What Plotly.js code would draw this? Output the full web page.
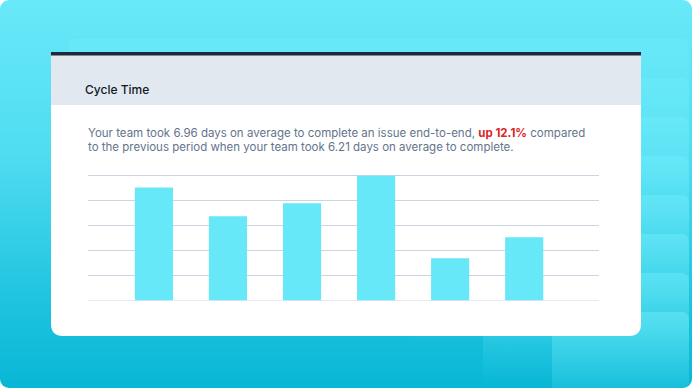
<!DOCTYPE html>
<html>
<head>
<meta charset="utf-8">
<script src="https://cdn.plot.ly/plotly-3.0.1.min.js"></script>
<style>
  html, body { margin: 0; padding: 0; background: #ffffff; }
  #wrap { position: relative; width: 693px; height: 389px; overflow: hidden; }
  #bg { position: absolute; left: 0; top: 0; width: 692px; height: 388px; border-radius: 9px;
        background: linear-gradient(to bottom, #68e9f9 0%, #4fdcf1 40%, #1cc2de 80%, #08b7d5 100%); overflow: hidden; }
  .deco { position: absolute; border-radius: 7px;
          background: linear-gradient(to bottom, rgba(110,236,250,0.5) 0px, rgba(110,236,250,0.0) 110px); }
  #chart { position: absolute; left: 0; top: 0; width: 693px; height: 389px; }
</style>
</head>
<body>
<div id="wrap">
  <div id="bg"></div>
  <div id="chart"></div>
</div>
<script>
// ---- data ----
const periods = ["P1", "P2", "P3", "P4", "P5", "P6"];
const cycleDays = [9.04, 6.74, 7.78, 9.98, 3.38, 5.06];
const gridDays = [0, 2, 4, 6, 8, 10];
const cardTitle = "Cycle Time";
const summaryLine1 = 'Your team took 6.96 days on average to complete an issue end-to-end, <b><span style="color:#dc2626">up 12.1%</span></b> compared';
const summaryLine2 = "to the previous period when your team took 6.21 days on average to complete.";

// decorative stair rectangles in the background
const bg = document.getElementById('bg');
for (let k = 1; k <= 8; k++) {
  const d = document.createElement('div');
  d.className = 'deco';
  d.style.left = (69 * k) + 'px';
  d.style.top = (39 * k) + 'px';
  d.style.width = (689 - 69 * k) + 'px';
  d.style.height = (400 - 39 * k) + 'px';
  bg.appendChild(d);
}

const W = 693, H = 389;
const px = x => x / W;
const py = y => 1 - y / H;
const plotL = 88, plotR = 599;

// card with rounded bottom corners
const L = 51, R = 641, T = 55, B = 336, r = 12;
const cardPath = `M ${px(L)} ${py(T)} L ${px(R)} ${py(T)} L ${px(R)} ${py(B - r)} Q ${px(R)} ${py(B)} ${px(R - r)} ${py(B)} L ${px(L + r)} ${py(B)} Q ${px(L)} ${py(B)} ${px(L)} ${py(B - r)} Z`;

const shapes = [
  { type: 'path', xref: 'paper', yref: 'paper', path: cardPath, fillcolor: '#ffffff', line: { width: 0 }, layer: 'below' },
  { type: 'rect', xref: 'paper', yref: 'paper', x0: px(L), x1: px(R), y0: py(105), y1: py(55), fillcolor: '#e2e8f0', line: { width: 0 }, layer: 'below' },
  { type: 'rect', xref: 'paper', yref: 'paper', x0: px(L), x1: px(R), y0: py(55.5), y1: py(52), fillcolor: '#1e293b', line: { width: 0 }, layer: 'below' }
];
// horizontal grid lines drawn from the y scale
gridDays.forEach(v => shapes.push({
  type: 'line', xref: 'paper', yref: 'y', x0: px(plotL), x1: px(plotR), y0: v, y1: v,
  line: { color: '#cbd5e1', width: 1 }, layer: 'below'
}));

const annotations = [
  { xref: 'paper', yref: 'paper', x: px(82.5), y: py(89.5), xanchor: 'left', yanchor: 'middle', showarrow: false,
    text: cardTitle, font: { family: 'Inter, sans-serif', size: 12, color: '#111827', weight: 500 } },
  { xref: 'paper', yref: 'paper', x: px(85.5), y: py(133), xanchor: 'left', yanchor: 'middle', showarrow: false,
    text: summaryLine1, font: { family: 'Inter, sans-serif', size: 11.5, color: '#64748b' } },
  { xref: 'paper', yref: 'paper', x: px(85.5), y: py(146.5), xanchor: 'left', yanchor: 'middle', showarrow: false,
    text: summaryLine2, font: { family: 'Inter, sans-serif', size: 11.5, color: '#64748b' } }
];

const trace = {
  type: 'bar',
  x: periods,
  y: cycleDays,
  width: 0.515,
  marker: { color: '#67e8f9', line: { width: 0 } },
  hoverinfo: 'skip'
};

const layout = {
  width: W, height: H,
  margin: { l: 0, r: 0, t: 0, b: 0, pad: 0 },
  paper_bgcolor: 'rgba(0,0,0,0)',
  plot_bgcolor: 'rgba(0,0,0,0)',
  showlegend: false,
  xaxis: {
    domain: [px(plotL), px(plotR)],
    type: 'category',
    range: [-0.89, 6.01],
    showticklabels: false, showgrid: false, zeroline: false, showline: false, ticks: ''
  },
  yaxis: {
    domain: [py(300.5), py(174.5)],
    range: [0, 10.08],
    showticklabels: false,
    showgrid: false, zeroline: false,
    showline: false, ticks: ''
  },
  shapes: shapes,
  annotations: annotations
};

Plotly.newPlot('chart', [trace], layout, { displayModeBar: false, staticPlot: true });
</script>
</body>
</html>
